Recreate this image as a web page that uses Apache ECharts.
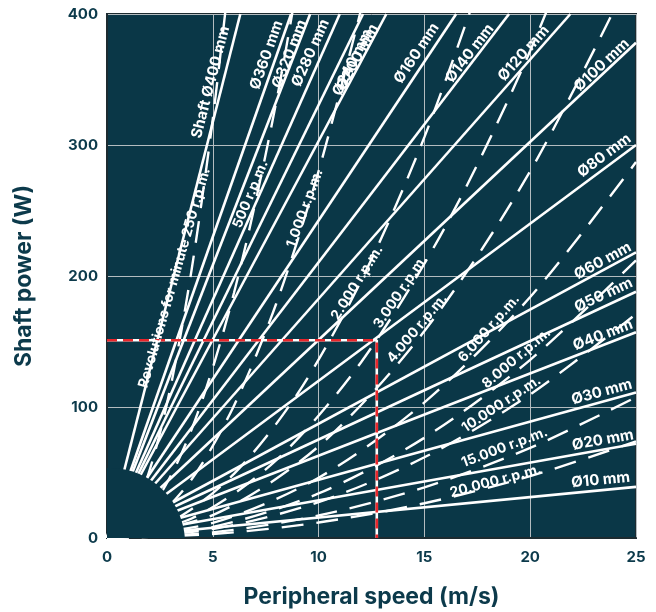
<!DOCTYPE html>
<html><head><meta charset="utf-8">
<script src="https://cdn.jsdelivr.net/npm/echarts@6/dist/echarts.min.js"></script>
<style>html,body{margin:0;padding:0;background:#fff}#c{width:656px;height:612px}</style>
</head><body><div id="c"></div>
<script>
// ---------- data ----------
const xTicks = [0, 5, 10, 15, 20, 25];
const yTicks = [0, 100, 200, 300, 400];

// shaft diameter lines (solid): from origin to where they leave the plot
const diamLabels = ['Shaft Ø400 mm','Ø360 mm','Ø320 mm','Ø280 mm','Ø240 mm','Ø200 mm','Ø160 mm','Ø140 mm','Ø120 mm','Ø100 mm','Ø80 mm','Ø60 mm','Ø50 mm','Ø40 mm','Ø30 mm','Ø20 mm','Ø10 mm'];
const diamEndX = [6.3, 8.7, 9.6, 11.0, 12.1, 13.2, 16.5, 19.0, 21.9, 25, 25, 25, 25, 25, 25, 25, 25];
const diamEndY = [400, 400, 400, 400, 400, 400, 400, 400, 400, 378, 300, 218, 188, 157, 111, 72, 39];
const diamLabelX = [4.9, 7.54, 8.63, 9.62, 11.6, 11.84, 14.63, 17.14, 19.69, 23.38, 23.5, 23.43, 23.47, 23.43, 23.38, 23.43, 23.33];
const diamLabelY = [348, 368.7, 369.5, 370.2, 363, 367, 370, 370, 370, 361, 292, 211.5, 185.5, 155, 111.5, 74.8, 44.3];

// revolutions per minute curves (dashed)
const rpmLabels = ['Revolutions for minute 250 r.p.m.','500 r.p.m.','1.000 r.p.m.','2.000 r.p.m.','3.000 r.p.m.','4.000 r.p.m.','6.000 r.p.m.','8.000 r.p.m.','10.000 r.p.m.','15.000 r.p.m.','20.000 r.p.m.'];
const rpm250   = [[0,0],[1,12.8],[2,51],[3,115],[4,205],[5,320],[6,461]];
const rpm500   = [[0,0],[2,21],[4,83],[6,187],[8,333],[10,520]];
const rpm1000  = [[0,0],[2,11.2],[4,44.8],[6,101],[8,179],[10,280],[12,403]];
const rpm2000  = [[0,0],[3,12.2],[6,49],[9,110],[12,196],[15,306],[18,441]];
const rpm3000  = [[0,0],[4,14.9],[8,59.5],[12,134],[16,238],[20,372],[24,536]];
const rpm4000  = [[0,0],[5,17.5],[10,70],[15,158],[20,280],[25,437]];
const rpm6000  = [[0,0],[5,11.5],[10,46],[15,103.5],[20,184],[25,287]];
const rpm8000  = [[0,0],[5,8.5],[10,34],[15,76.5],[20,136],[25,212]];
const rpm10000 = [[0,0],[5,6.9],[10,27.4],[15,61.6],[20,109.6],[25,171]];
const rpm15000 = [[0,0],[5,4.3],[10,17.2],[15,38.7],[20,68.8],[25,107.5]];
const rpm20000 = [[0,0],[5,3],[10,11.8],[15,26.5],[20,47.2],[25,73.8]];
const rpmCurves = [rpm250, rpm500, rpm1000, rpm2000, rpm3000, rpm4000, rpm6000, rpm8000, rpm10000, rpm15000, rpm20000];
const rpmLabelX = [3.19, 6.78, 9.35, 11.82, 13.87, 14.66, 18.05, 19.35, 18.64, 18.79, 18.37];
const rpmLabelY = [198.5, 262.4, 251.7, 195, 188, 160, 160, 137.2, 102.3, 69.2, 43.5];

// example reading (red dashed guide)
const markerSpeed = 12.75;
const markerPower = 151;

// ---------- styles ----------
const BG = '#0a3747';
const INK = '#0c3a4b';
const FONT = 'Inter';
const rpmLabelAngle = [74, 67.5, 70, 58, 56, 50, 48.6, 40.4, 33.4, 20.6, 15];

const series = [];
diamLabels.forEach((n, i) => {
  series.push({
    type: 'line', silent: true, symbol: 'none', z: 3, clip: true,
    data: [[0, 0], [diamEndX[i], diamEndY[i]]],
    lineStyle: { color: '#ffffff', width: 2.6 }
  });
});
rpmCurves.forEach((c, i) => {
  series.push({
    type: 'line', silent: true, symbol: 'none', z: 3, clip: true,
    smooth: 0.3,
    data: c,
    lineStyle: { color: '#ffffff', width: 2.4, type: [22, 13] }
  });
});
// inner arc (lines start on it)
series.push({
  type: 'custom', silent: true, z: 5, clip: true,
  data: [[0, 0]],
  renderItem: (params, api) => {
    const p = api.coord([api.value(0), api.value(1)]);
    return { type: 'circle', shape: { cx: p[0] + 3, cy: p[1] + 5, r: 75 }, style: { fill: BG } };
  }
});
// red guide
const guide = [[0, markerPower], [markerSpeed, markerPower], [markerSpeed, 0]];
series.push({ type: 'line', silent: true, symbol: 'none', z: 6, data: guide,
  lineStyle: { color: '#ffffff', width: 2.6 } });
series.push({ type: 'line', silent: true, symbol: 'none', z: 7, data: guide,
  lineStyle: { color: '#e8262b', width: 2.6, type: [10, 6] } });
// diameter labels
series.push({
  type: 'custom', silent: true, z: 8, clip: false,
  data: diamLabelX.map((x, i) => [x, diamLabelY[i], diamEndX[i], diamEndY[i]]),
  renderItem: (params, api) => {
    const c = api.coord([api.value(0), api.value(1)]);
    const o = api.coord([0, 0]);
    const e = api.coord([api.value(2), api.value(3)]);
    const ang = Math.atan2(o[1] - e[1], e[0] - o[0]);
    return { type: 'text', x: c[0], y: c[1], rotation: ang,
      style: { text: diamLabels[params.dataIndex], fill: '#ffffff', font: 'bold 15px ' + FONT, align: 'center', verticalAlign: 'middle' } };
  }
});
// rpm labels
series.push({
  type: 'custom', silent: true, z: 8, clip: false,
  data: rpmLabelX.map((x, i) => [x, rpmLabelY[i]]),
  renderItem: (params, api) => {
    const c = api.coord([api.value(0), api.value(1)]);
    return { type: 'text', x: c[0], y: c[1], rotation: rpmLabelAngle[params.dataIndex] * Math.PI / 180,
      style: { text: rpmLabels[params.dataIndex], fill: '#ffffff', font: 'bold 14px ' + FONT, align: 'center', verticalAlign: 'middle' } };
  }
});

const chart = echarts.init(document.getElementById('c'), null, { renderer: 'canvas' });
chart.setOption({
  animation: false,
  backgroundColor: '#ffffff',
  grid: { left: 107, right: 20, top: 14, bottom: 74, show: true, backgroundColor: BG, borderColor: '#1d2b30', borderWidth: 2, containLabel: false, outerBoundsMode: 'none' },
  xAxis: {
    type: 'value', min: xTicks[0], max: xTicks[xTicks.length - 1], interval: xTicks[1] - xTicks[0],
    name: 'Peripheral speed (m/s)', nameLocation: 'middle', nameGap: 48,
    nameTextStyle: { color: INK, fontFamily: FONT, fontWeight: 'bold', fontSize: 23 },
    axisLine: { show: true, lineStyle: { color: '#1d2b30', width: 2 } },
    axisTick: { show: false },
    axisLabel: { color: INK, fontFamily: FONT, fontWeight: 'bold', fontSize: 15, margin: 12 },
    splitLine: { show: true, lineStyle: { color: '#b4bcc0', width: 1 } }
  },
  yAxis: {
    type: 'value', min: yTicks[0], max: yTicks[yTicks.length - 1], interval: yTicks[1] - yTicks[0],
    name: 'Shaft power (W)', nameLocation: 'middle', nameGap: 71, nameRotate: 90,
    nameTextStyle: { color: INK, fontFamily: FONT, fontWeight: 'bold', fontSize: 23 },
    axisLine: { show: true, lineStyle: { color: '#1d2b30', width: 2 } },
    axisTick: { show: false },
    axisLabel: { color: INK, fontFamily: FONT, fontWeight: 'bold', fontSize: 15, margin: 9 },
    splitLine: { show: true, lineStyle: { color: '#b4bcc0', width: 1 } }
  },
  series: series
});
</script></body></html>
